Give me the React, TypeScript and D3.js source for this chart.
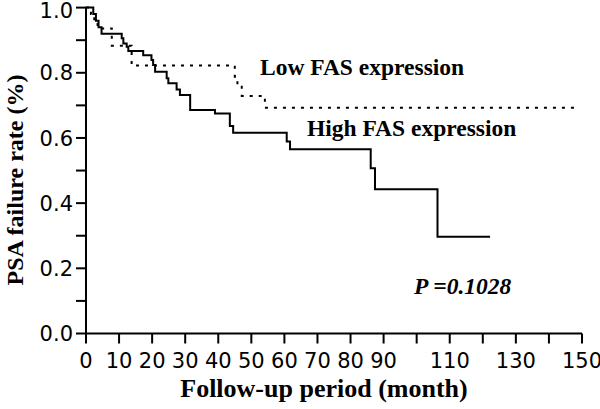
import React from "react";
import * as d3 from "d3";

// High FAS expression (solid) – Kaplan–Meier steps
const highTimes = [0, 2.2, 3.0, 3.8, 4.7, 10.8, 11.3, 12.3, 12.8, 17.3, 19.8, 20.3, 20.9, 24.4, 24.9, 27.4, 28.4, 31.5, 39.0, 43.5, 44.5, 60.7, 61.7, 86.1, 87.4, 106.3, 122.2];
const highSurv = [1.0, 0.98, 0.96, 0.94, 0.92, 0.906, 0.89, 0.88, 0.867, 0.854, 0.839, 0.824, 0.803, 0.783, 0.768, 0.749, 0.732, 0.686, 0.675, 0.637, 0.616, 0.589, 0.565, 0.507, 0.443, 0.297, 0.297];

// Low FAS expression (dotted)
const lowTimes = [0, 1.5, 2.5, 3.5, 7.8, 13.8, 45.0, 45.8, 47.1, 54.1, 148];
const lowSurv = [1.0, 0.98, 0.96, 0.936, 0.883, 0.822, 0.788, 0.757, 0.729, 0.693, 0.693];

const xTickValues = [0, 10, 20, 30, 40, 50, 60, 70, 80, 90, 100, 110, 120, 130, 140, 150];
const xTickLabels = [0, 10, 20, 30, 40, 50, 60, 70, 80, 90, 110, 130, 150];
const yTickValues = [0, 0.1, 0.2, 0.3, 0.4, 0.5, 0.6, 0.7, 0.8, 0.9, 1.0];
const yTickLabels = [0, 0.2, 0.4, 0.6, 0.8, 1.0];

const W = 600;
const H = 409;

export default function App() {
  const x = d3.scaleLinear().domain([0, 150]).range([86, 582]);
  const y = d3.scaleLinear().domain([0, 1]).range([333.5, 7.6]);

  const line = d3
    .line<[number, number]>()
    .x((d) => x(d[0]))
    .y((d) => y(d[1]))
    .curve(d3.curveStepAfter);

  const highPts = highTimes.map((t, i) => [t, highSurv[i]] as [number, number]);
  const lowPts = lowTimes.map((t, i) => [t, lowSurv[i]] as [number, number]);

  const tickFont = "'DejaVu Sans', Verdana, sans-serif";
  const serif = "'Liberation Serif', 'Times New Roman', serif";

  return (
    <svg
      width={W}
      height={H}
      style={{ position: "absolute", left: 0, top: 0, background: "#fff" }}
    >
      <rect x={0} y={0} width={W} height={H} fill="#fff" />
      {/* curves */}
      <path d={line(lowPts) || ""} fill="none" stroke="#000" strokeWidth={2} strokeDasharray="3,6" />
      <path d={line(highPts) || ""} fill="none" stroke="#000" strokeWidth={2} />

      {/* y axis */}
      <line x1={x(0)} x2={x(0)} y1={y(1)} y2={y(0)} stroke="#000" strokeWidth={2} />
      {yTickValues.map((v) => (
        <line key={"yt" + v} x1={x(0) - 10} x2={x(0)} y1={y(v)} y2={y(v)} stroke="#000" strokeWidth={2} />
      ))}
      {yTickLabels.map((v) => (
        <text
          key={"yl" + v}
          x={73}
          y={y(v) + (v === 1 ? 2.5 : 0)}
          dy="0.36em"
          textAnchor="end"
          fontFamily={tickFont}
          fontSize={21}
          fill="#000"
        >
          {v.toFixed(1)}
        </text>
      ))}

      {/* x axis */}
      <line x1={x(0)} x2={x(150)} y1={y(0)} y2={y(0)} stroke="#000" strokeWidth={2} />
      {xTickValues.map((v) => (
        <line key={"xt" + v} x1={x(v)} x2={x(v)} y1={y(0)} y2={y(0) + 10} stroke="#000" strokeWidth={2} />
      ))}
      {xTickLabels.map((v) => (
        <text
          key={"xl" + v}
          x={x(v)}
          y={368}
          textAnchor="middle"
          fontFamily={tickFont}
          fontSize={21}
          fill="#000"
        >
          {v}
        </text>
      ))}

      {/* titles */}
      <text x={324} y={397} textAnchor="middle" fontFamily={serif} fontWeight="bold" fontSize={26} fill="#000">
        Follow-up period (month)
      </text>
      <text
        transform={`translate(23, ${180}) rotate(-90)`}
        textAnchor="middle"
        fontFamily={serif}
        fontWeight="bold"
        fontSize={24}
        fill="#000"
      >
        PSA failure rate (%)
      </text>

      {/* annotations */}
      <text x={260} y={75} fontFamily={serif} fontWeight="bold" fontSize={23.5} fill="#000">
        Low FAS expression
      </text>
      <text x={307} y={136} fontFamily={serif} fontWeight="bold" fontSize={23.5} fill="#000">
        High FAS expression
      </text>
      <text x={414} y={294} fontFamily={serif} fontWeight="bold" fontStyle="italic" fontSize={23.5} fill="#000">
        P =0.1028
      </text>
    </svg>
  );
}
